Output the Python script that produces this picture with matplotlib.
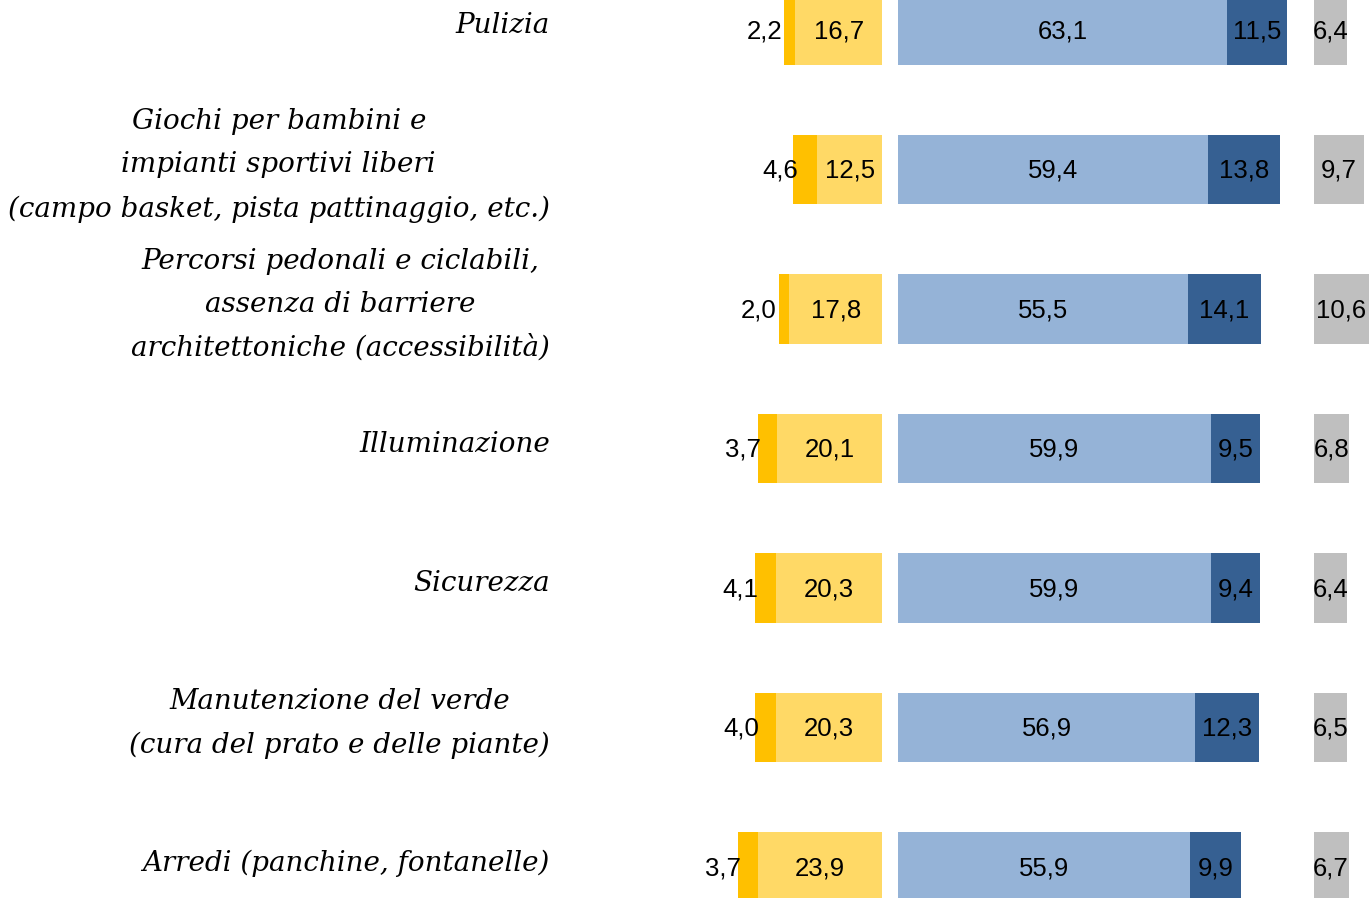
import matplotlib
matplotlib.use("Agg")
import matplotlib.pyplot as plt

categorie = ["Pulizia",
             "Giochi per bambini e\nimpianti sportivi liberi\n(campo basket, pista pattinaggio, etc.)",
             "Percorsi pedonali e ciclabili,\nassenza di barriere\narchitettoniche (accessibilità)",
             "Illuminazione",
             "Sicurezza",
             "Manutenzione del verde\n(cura del prato e delle piante)",
             "Arredi (panchine, fontanelle)"]
per_niente = [2.2, 4.6, 2.0, 3.7, 4.1, 4.0, 3.7]
poco = [16.7, 12.5, 17.8, 20.1, 20.3, 20.3, 23.9]
abbastanza = [63.1, 59.4, 55.5, 59.9, 59.9, 56.9, 55.9]
molto = [11.5, 13.8, 14.1, 9.5, 9.4, 12.3, 9.9]
non_sa = [6.4, 9.7, 10.6, 6.8, 6.4, 6.5, 6.7]

c_per_niente = "#FFC000"
c_poco = "#FFD966"
c_abb = "#95B3D7"
c_molto = "#366092"
c_ns = "#BFBFBF"

gap = 3        # spazio tra parte negativa e positiva
off_ns = 79.6  # inizio barra "non sa"

def fmt(v):
    return f"{v:.1f}".replace(".", ",")

fig = plt.figure(figsize=(13.72, 8.98), dpi=100)
ax = fig.add_axes([0, 0, 1, 1])

y = list(range(len(categorie)))
h = 0.5
num_font = dict(family="Liberation Sans", fontsize=18.5, color="black")

for i in y:
    # lato negativo
    left_poco = -gap - poco[i]
    left_pn = left_poco - per_niente[i]
    ax.barh(i, poco[i], left=left_poco, height=h, color=c_poco)
    ax.barh(i, per_niente[i], left=left_pn, height=h, color=c_per_niente)
    ax.text(left_poco + poco[i] / 2, i + 0.01, fmt(poco[i]), ha="center", va="center", **num_font)
    ax.text(left_pn + per_niente[i] / 2 - 4.8, i + 0.01, fmt(per_niente[i]), ha="center", va="center", **num_font)
    # lato positivo
    ax.barh(i, abbastanza[i], left=0, height=h, color=c_abb)
    ax.barh(i, molto[i], left=abbastanza[i], height=h, color=c_molto)
    ax.text(abbastanza[i] / 2, i + 0.01, fmt(abbastanza[i]), ha="center", va="center", **num_font)
    ax.text(abbastanza[i] + molto[i] / 2, i + 0.01, fmt(molto[i]), ha="center", va="center", **num_font)
    # non sa
    ax.barh(i, non_sa[i], left=off_ns, height=h, color=c_ns)
    ax.text(off_ns + non_sa[i] / 2, i + 0.01, fmt(non_sa[i]), ha="center", va="center", **num_font)
    # etichetta categoria
    ax.text(-66.7, i - 0.03, categorie[i], ha="right", va="center", multialignment="center",
            family="DejaVu Serif", style="italic", fontsize=20, linespacing=1.78)

ax.set_xlim(-172, 90.8)
ax.set_ylim(6.222, -0.215)
ax.axis("off")

fig.savefig("out.png", dpi=100)
